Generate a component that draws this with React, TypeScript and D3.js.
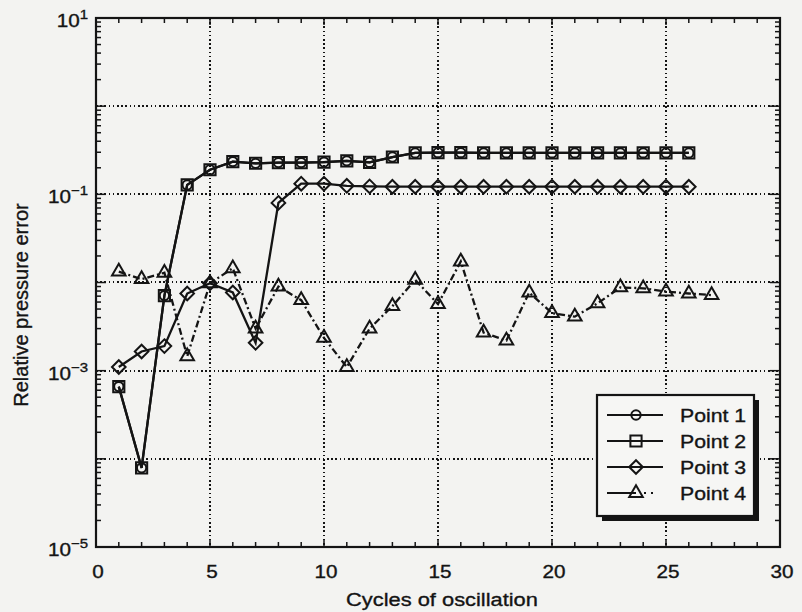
import React, { useRef, useEffect } from 'react';
import * as d3 from 'd3';

// cycles (x) for each series
const cyclesA = [1, 2, 3, 4, 5, 6, 7, 8, 9, 10, 11, 12, 13, 14, 15, 16, 17, 18, 19, 20, 21, 22, 23, 24, 25, 26];
const cyclesB = [1, 2, 3, 4, 5, 6, 7, 8, 9, 10, 11, 12, 13, 14, 15, 16, 17, 18, 19, 20, 21, 22, 23, 24, 25, 26, 27];

// relative pressure error
const point1 = [6.6e-4, 7.9e-5, 7.1e-3, 0.128, 0.19, 0.235, 0.225, 0.229, 0.229, 0.232, 0.24, 0.23, 0.265,
  0.295, 0.297, 0.297, 0.295, 0.295, 0.295, 0.295, 0.295, 0.295, 0.295, 0.295, 0.295, 0.295];
const point2 = [6.6e-4, 7.9e-5, 7.1e-3, 0.128, 0.19, 0.235, 0.225, 0.229, 0.229, 0.232, 0.24, 0.23, 0.265,
  0.295, 0.297, 0.297, 0.295, 0.295, 0.295, 0.295, 0.295, 0.295, 0.295, 0.295, 0.295, 0.295];
const point3 = [1.1e-3, 1.65e-3, 1.9e-3, 7.5e-3, 9.8e-3, 7.7e-3, 2.07e-3, 0.08, 0.132, 0.132, 0.125, 0.123,
  0.122, 0.122, 0.122, 0.122, 0.122, 0.122, 0.122, 0.122, 0.122, 0.122, 0.122, 0.122, 0.122, 0.122];
const point4 = [0.0133, 0.0109, 0.0129, 1.45e-3, 9.8e-3, 0.0145, 3.0e-3, 9.0e-3, 6.3e-3, 2.35e-3, 1.1e-3,
  3.0e-3, 5.4e-3, 0.0107, 5.7e-3, 0.0173, 2.7e-3, 2.2e-3, 7.7e-3, 4.5e-3, 4.1e-3, 5.8e-3, 8.8e-3, 8.6e-3,
  7.9e-3, 7.5e-3, 7.2e-3];

const seriesNames = ['Point 1', 'Point 2', 'Point 3', 'Point 4'];
const xTicks = [0, 5, 10, 15, 20, 25, 30];
const yLabelExps = [1, -1, -3, -5];

const W = 802;
const H = 612;
const INK = '#141414';
const PAPER = '#f3f3f1';
const FONT = '"Liberation Sans", Arial, Helvetica, sans-serif';
const STRETCH = 1.15;

const diamond = (s: number) => `M0,${-s}L${s},0L0,${s}L${-s},0Z`;

const App = () => {
  const svgRef = useRef<SVGSVGElement>(null);

  useEffect(() => {
    const svg = d3.select(svgRef.current);
    svg.selectAll('*').remove();

    const left = 96, right = 780, top = 18, bottom = 547;
    const x = d3.scaleLinear().domain([0, 30]).range([left, right]);
    const y = d3.scaleLog().domain([1e-5, 10]).range([bottom, top]);

    svg.append('rect').attr('width', W).attr('height', H).attr('fill', PAPER);

    const g = svg.append('g');

    // grid, dotted
    const grid = g.append('g').attr('stroke', INK).attr('stroke-width', 1.6)
      .attr('stroke-dasharray', '1.6 2.6').attr('shape-rendering', 'crispEdges');
    [5, 10, 15, 20, 25].forEach(v => {
      grid.append('line').attr('x1', Math.round(x(v))).attr('x2', Math.round(x(v))).attr('y1', top).attr('y2', bottom);
    });
    [1e-4, 1e-3, 1e-2, 1e-1, 1].forEach(v => {
      grid.append('line').attr('x1', left).attr('x2', right).attr('y1', Math.round(y(v))).attr('y2', Math.round(y(v)));
    });

    // ticks, inward on all four sides
    const ticks = g.append('g').attr('stroke', INK).attr('stroke-width', 1.5);
    d3.range(0, 31).forEach(v => {
      const len = v % 5 === 0 ? 7 : 5;
      ticks.append('line').attr('x1', x(v)).attr('x2', x(v)).attr('y1', bottom).attr('y2', bottom - len);
      ticks.append('line').attr('x1', x(v)).attr('x2', x(v)).attr('y1', top).attr('y2', top + len);
    });
    y.ticks().forEach(v => {
      const major = Math.abs(Math.log10(v) - Math.round(Math.log10(v))) < 1e-9;
      const len = major ? 10 : 5;
      ticks.append('line').attr('x1', left).attr('x2', left + len).attr('y1', y(v)).attr('y2', y(v));
      ticks.append('line').attr('x1', right).attr('x2', right - len).attr('y1', y(v)).attr('y2', y(v));
    });

    // frame
    g.append('rect')
      .attr('x', left).attr('y', top)
      .attr('width', right - left).attr('height', bottom - top)
      .attr('fill', 'none').attr('stroke', INK).attr('stroke-width', 2.2);

    // tick labels
    const label = (px: number, py: number, anchor: string, size = 18) =>
      svg.append('text')
        .attr('transform', `translate(${px},${py}) scale(${STRETCH},1)`)
        .attr('text-anchor', anchor)
        .attr('font-family', FONT).attr('font-size', size).attr('fill', INK)
        .attr('stroke', INK).attr('stroke-width', 0.35);

    xTicks.forEach(v => label(x(v) + 2, 578, 'middle').text(String(v)));
    yLabelExps.forEach(e => {
      const t = label(88, y(Math.pow(10, e)) + 9, 'end');
      t.append('tspan').text('10');
      t.append('tspan').attr('dy', -8).attr('font-size', 13).text(e < 0 ? `\u2212${-e}` : String(e));
    });

    label((left + right) / 2 + 4, 606, 'middle', 19).text('Cycles of oscillation');
    svg.append('text')
      .attr('transform', 'translate(28,305) rotate(-90)')
      .attr('text-anchor', 'middle')
      .attr('font-family', FONT).attr('font-size', 20).attr('fill', INK)
      .attr('stroke', INK).attr('stroke-width', 0.35)
      .text('Relative pressure error');

    // series
    const series = [
      { xs: cyclesA, ys: point1, marker: 'circle', dash: null },
      { xs: cyclesA, ys: point2, marker: 'square', dash: null },
      { xs: cyclesA, ys: point3, marker: 'diamond', dash: null },
      { xs: cyclesB, ys: point4, marker: 'triangle', dash: '7 3 2 3' },
    ];

    const markerPath = (m: string) => {
      if (m === 'circle') return d3.symbol().type(d3.symbolCircle).size(68)();
      if (m === 'square') return d3.symbol().type(d3.symbolSquare).size(125)();
      if (m === 'diamond') return diamond(6.8);
      return d3.symbol().type(d3.symbolTriangle).size(80)();
    };

    const line = d3.line<[number, number]>().x(d => x(d[0])).y(d => y(d[1]));

    series.forEach(s => {
      const pts = s.xs.map((v, i) => [v, s.ys[i]] as [number, number]);
      g.append('path')
        .attr('d', line(pts))
        .attr('fill', 'none').attr('stroke', INK).attr('stroke-width', 2.3)
        .attr('stroke-dasharray', s.dash);
      g.selectAll(null)
        .data(pts)
        .enter()
        .append('path')
        .attr('d', markerPath(s.marker))
        .attr('transform', d => `translate(${x(d[0])},${y(d[1])})`)
        .attr('fill', 'none').attr('stroke', INK).attr('stroke-width', 2);
    });

    // legend with drop shadow
    const lg = svg.append('g');
    const lx = 597, ly = 395, lw = 157, lh = 121;
    lg.append('rect').attr('x', lx + 5).attr('y', ly + 5).attr('width', lw).attr('height', lh).attr('fill', INK);
    lg.append('rect').attr('x', lx).attr('y', ly).attr('width', lw).attr('height', lh)
      .attr('fill', '#f6f6f4').attr('stroke', INK).attr('stroke-width', 2.2);
    seriesNames.forEach((name, i) => {
      const ry = 415 + i * 26;
      const s = series[i];
      lg.append('line').attr('x1', 607).attr('x2', 663).attr('y1', ry).attr('y2', ry)
        .attr('stroke', INK).attr('stroke-width', 2.2)
        .attr('stroke-dasharray', s.dash ? '29 8 2 5 2 20' : null);
      lg.append('path').attr('d', markerPath(s.marker))
        .attr('transform', `translate(636,${ry})`)
        .attr('fill', 'none').attr('stroke', INK).attr('stroke-width', 2);
      lg.append('text')
        .attr('transform', `translate(680,${ry + 7}) scale(${STRETCH},1)`)
        .attr('font-family', FONT).attr('font-size', 18.5).attr('fill', INK)
        .attr('stroke', INK).attr('stroke-width', 0.35)
        .text(name);
    });
  }, []);

  return (
    <svg ref={svgRef} width={W} height={H} style={{ position: 'absolute', left: 0, top: 0 }}></svg>
  );
};

export default App;
